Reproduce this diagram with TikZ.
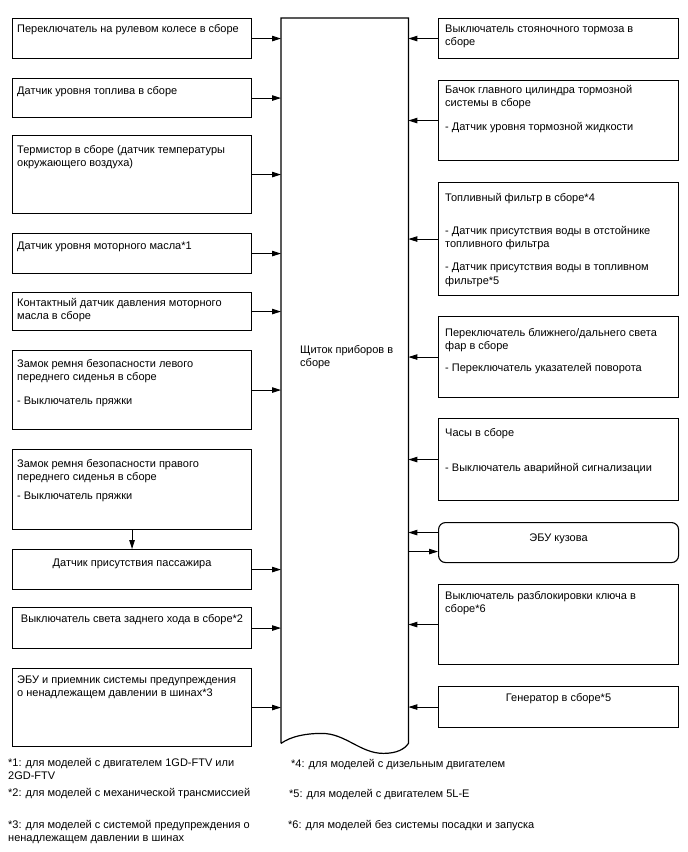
\documentclass[tikz,border=0pt]{standalone}
\usepackage{fontspec}
\setmainfont{Liberation Sans}
\usetikzlibrary{arrows.meta,calc}
\newcommand\fsz{\fontsize{11}{13.5}\selectfont}
\newcommand\st{\rule{0pt}{9pt}}
\begin{document}
\begin{tikzpicture}[x=1pt,y=-1pt,
  box/.style={draw, line width=1.1pt, inner sep=0pt, anchor=north west},
  lbox/.style={box, minimum width=239pt},
  rbox/.style={box, minimum width=240pt},
  txt/.style={inner sep=0pt, anchor=north west, align=left, font=\fsz},
  ctxt/.style={inner sep=0pt, anchor=north, align=center, font=\fsz},
  arr/.style={line width=0.9pt, -{Triangle[length=9pt,width=5.5pt]}},
]
\useasboundingbox (0,0) rectangle (688,852);
% central box
\node[inner sep=0pt, minimum width=127pt, minimum height=725pt, anchor=north west] (c) at (281,18) {};
\draw[line width=1.2pt] (c.south west) -- (c.north west) -- (c.north east) -- (c.south east)
  .. controls ($(c.south east)+(-4,6)$) and ($(c.south east)+(-12,10)$) .. ($(c.south east)+(-25,10)$)
  .. controls ($(c.south east)+(-48,10)$) and ($(c.south east)+(-63,-10)$) .. ($(c.south west)+(41,-10)$)
  .. controls ($(c.south west)+(24,-10)$) and ($(c.south west)+(10,-7)$) .. (c.south west);
\node[txt] (ct) at (300,344) {\st Щиток приборов в\\сборе};

% left boxes
\node[lbox, minimum height=40pt] (l1) at (12,18) {};
\node[txt] (t1) at (17,23) {\st Переключатель на рулевом колесе в сборе};
\node[lbox, minimum height=39pt] (l2) at (12,78) {};
\node[txt] (t2) at (17,85) {\st Датчик уровня топлива в сборе};
\node[lbox, minimum height=78pt] (l3) at (12,135) {};
\node[txt] (t3) at (17,144) {\st Термистор в сборе (датчик температуры\\окружающего воздуха)};
\node[lbox, minimum height=40pt] (l4) at (12,233) {};
\node[txt] (t4) at (17,240) {\st Датчик уровня моторного масла*1};
\node[lbox, minimum height=38pt] (l5) at (12,292) {};
\node[txt] (t5) at (17,297) {\st Контактный датчик давления моторного\\масла в сборе};
\node[lbox, minimum height=79pt] (l6) at (12,350) {};
\node[txt] (t6) at (17,358) {\st Замок ремня безопасности левого\\переднего сиденья в сборе\\[10pt]- Выключатель пряжки};
\node[lbox, minimum height=80pt] (l7) at (12,449) {};
\node[txt] (t7) at (17,458) {\st Замок ремня безопасности правого\\переднего сиденья в сборе\\[5pt]- Выключатель пряжки};
\node[lbox, minimum height=40pt] (l8) at (12,549) {};
\node[ctxt] (t8) at ($(l8.north)+(0,8)$) {\st Датчик присутствия пассажира};
\node[lbox, minimum height=41pt] (l9) at (12,607) {};
\node[ctxt] (t9) at ($(l9.north)+(0,6)$) {\st Выключатель света заднего хода в сборе*2};
\node[lbox, minimum height=78pt] (l10) at (12,668) {};
\node[txt] (t10) at (17,674) {\st ЭБУ и приемник системы предупреждения\\о ненадлежащем давлении в шинах*3};

% right boxes
\node[rbox, minimum height=40pt] (r1) at (438,18) {};
\node[txt] (s1) at (445,23) {\st Выключатель стояночного тормоза в\\сборе};
\node[rbox, minimum height=80pt] (r2) at (438,80) {};
\node[txt] (s2) at (445,84) {\st Бачок главного цилиндра тормозной\\системы в сборе\\[10pt]- Датчик уровня тормозной жидкости};
\node[rbox, minimum height=113pt] (r3) at (438,182) {};
\node[txt] (s3) at (445,192) {\st Топливный фильтр в сборе*4\\[19.5pt]- Датчик присутствия воды в отстойнике\\топливного фильтра\\[9.5pt]- Датчик присутствия воды в топливном\\фильтре*5};
\node[rbox, minimum height=81pt] (r4) at (438,316) {};
\node[txt] (s4) at (445,327) {\st Переключатель ближнего/дальнего света\\фар в сборе\\[8.5pt]- Переключатель указателей поворота};
\node[rbox, minimum height=82pt] (r5) at (438,418) {};
\node[txt] (s5) at (445,427) {\st Часы в сборе\\[21.5pt]- Выключатель аварийной сигнализации};
\node[rbox, minimum height=40pt, rounded corners=7pt] (r6) at (438,522) {};
\node[ctxt] (s6) at ($(r6.north)+(0,10)$) {\st ЭБУ кузова};
\node[rbox, minimum height=80pt] (r7) at (438,584) {};
\node[txt] (s7) at (445,590) {\st Выключатель разблокировки ключа в\\сборе*6};
\node[rbox, minimum height=41pt] (r8) at (438,686) {};
\node[ctxt] (s8) at ($(r8.north)+(0,6)$) {\st Генератор в сборе*5};

% connectors
\foreach \b in {l1,l2,l3,l4,l5,l6,l8,l9,l10}
  \draw[arr] (\b.east) -- (\b.east -| c.west);
\foreach \b in {r1,r2,r3,r4,r5,r7,r8}
  \draw[arr] (\b.west) -- (\b.west -| c.east);
\draw[arr] ($(r6.west)+(0,-10)$) -- ($(r6.west -| c.east)+(0,-10)$);
\draw[arr] ($(r6.west -| c.east)+(0,9)$) -- ($(r6.west)+(0,9)$);
\draw[arr] (l7.south) -- (l8.north);

% footnotes
\node[txt] (f1) at (8,757) {\st *1: для моделей с двигателем 1GD-FTV или\\2GD-FTV};
\node[txt] (f2) at (8,787) {\st *2: для моделей с механической трансмиссией};
\node[txt] (f3) at (8,819) {\st *3: для моделей с системой предупреждения о\\ненадлежащем давлении в шинах};
\node[txt] (f4) at (291,758) {\st *4: для моделей с дизельным двигателем};
\node[txt] (f5) at (289,788) {\st *5: для моделей с двигателем 5L-E};
\node[txt] (f6) at (288,819) {\st *6: для моделей без системы посадки и запуска};
\end{tikzpicture}
\end{document}
